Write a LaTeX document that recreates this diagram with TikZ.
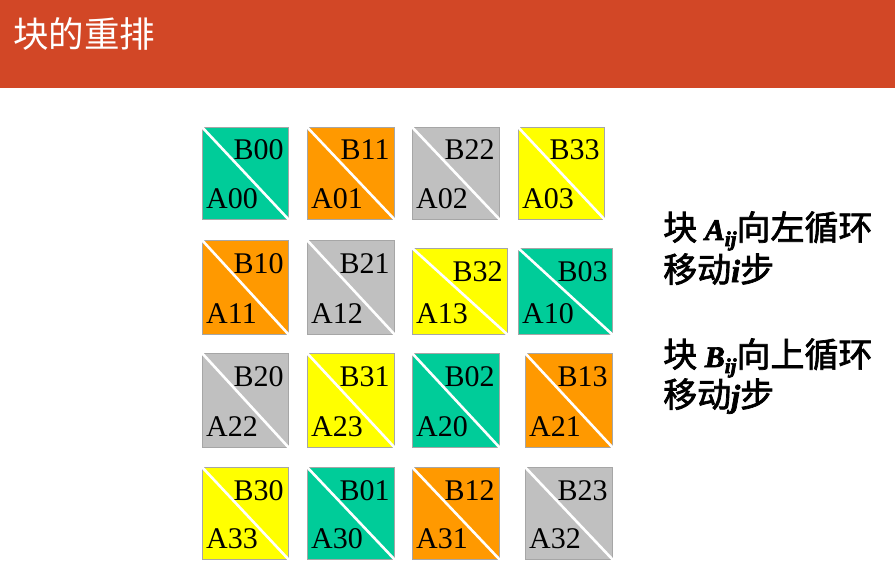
\documentclass[tikz,border=0pt]{standalone}
\usepackage{fontspec}
\setmainfont{Liberation Serif}
\newfontfamily\cjk{Noto Sans CJK SC}
\usetikzlibrary{positioning}

\definecolor{titlered}{HTML}{D24726}
\definecolor{blkteal}{HTML}{00CC99}
\definecolor{blkorange}{HTML}{FF9900}
\definecolor{blkgray}{HTML}{C0C0C0}
\definecolor{blkyellow}{HTML}{FFFF00}
\definecolor{blkedge}{HTML}{A6A6A6}

\tikzset{
    blk/.style={draw=blkedge, fill=#1, line width=0.8pt, inner sep=0pt, anchor=north west},
    cut/.style={draw=white, line width=2.6pt},
    lbl/.style={inner sep=0pt, font=\fontsize{30}{30}\selectfont},
    note/.style={inner sep=0pt, anchor=base west, text height=24pt, text depth=4pt,
        font=\cjk\fontsize{34}{34}\selectfont},
}
% bold italic serif letters inside the notes
\newcommand{\bivar}[2]{{\rmfamily\bfseries\itshape\fontsize{#2}{#2}\selectfont #1}}
% slightly heavier strokes for the note text
\newcommand{\heavy}[1]{\special{pdf:literal direct 2 Tr 0.7 w}#1\special{pdf:literal direct 0 Tr}}

\begin{document}
\begin{tikzpicture}[x=1pt, y=-1pt]
    \useasboundingbox (0,0) rectangle (895,575);
    % title bar
    \fill[titlered] (0,0) rectangle (895,88);
    \node[inner sep=0pt, anchor=base west, text=white, font=\cjk\fontsize{35.5}{35.5}\selectfont] (title) at (13,48) {块的重排};

    % blocks after rearrangement
    \foreach \x/\y/\w/\h/\c/\a/\b in {
        202/127/86/92/blkteal/00/00, 307/127/87/92/blkorange/01/11,
        412/127/87/92/blkgray/02/22, 518/127/86/92/blkyellow/03/33,
        202/240/86/94/blkorange/11/10, 307/240/87/94/blkgray/12/21,
        412/248/95/86/blkyellow/13/32, 518/248/94/86/blkteal/10/03,
        202/353/86/94/blkgray/22/20, 307/353/87/94/blkyellow/23/31,
        412/353/87/94/blkteal/20/02, 525/353/87/94/blkorange/21/13,
        202/467/86/92/blkyellow/33/30, 307/467/87/92/blkteal/30/01,
        412/467/87/92/blkorange/31/12, 525/467/87/92/blkgray/32/23}
    {
        \node[blk=\c, minimum width=\w pt, minimum height=\h pt] (a\a) at (\x,\y) {};
        \draw[cut] ([shift={(-1pt,1pt)}]a\a.north west) -- ([shift={(1pt,-1pt)}]a\a.south east);
        \node[lbl, anchor=base east] (lb\a) at ([shift={(-5pt,-33pt)}]a\a.north east) {B\b};
        \node[lbl, anchor=base west] (la\a) at ([shift={(4pt,11pt)}]a\a.south west) {A\a};
    }

    % explanation
    \node[note] (r1) at (663,240) {\heavy{块 \bivar{A}{30}\raisebox{-6pt}{\bivar{ij}{21}}向左循环}};
    \node[note] (r2) at (663,282) {\heavy{移动\bivar{i}{32}步}};
    \node[note] (r3) at (663,367) {\heavy{块 \bivar{B}{30}\raisebox{-6pt}{\bivar{ij}{21}}向上循环}};
    \node[note] (r4) at (663,407) {\heavy{移动\bivar{j}{32}步}};
\end{tikzpicture}
\end{document}
